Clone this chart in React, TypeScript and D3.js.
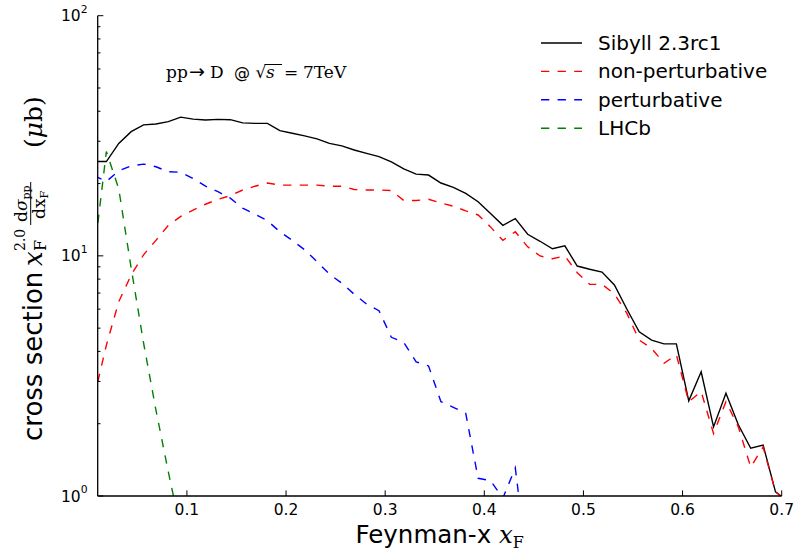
import React from "react";
import * as d3 from "d3";

const xF = [0.00625, 0.01875, 0.03125, 0.04375, 0.05625, 0.06875, 0.08125, 0.09375, 0.10625, 0.11875,
  0.13125, 0.14375, 0.15625, 0.16875, 0.18125, 0.19375, 0.20625, 0.21875, 0.23125, 0.24375,
  0.25625, 0.26875, 0.28125, 0.29375, 0.30625, 0.31875, 0.33125, 0.34375, 0.35625, 0.36875,
  0.38125, 0.39375, 0.40625, 0.41875, 0.43125, 0.44375, 0.45625, 0.46875, 0.48125, 0.49375,
  0.50625, 0.51875, 0.53125, 0.54375, 0.55625, 0.56875, 0.58125, 0.59375, 0.60625, 0.61875,
  0.63125, 0.64375, 0.65625, 0.66875, 0.68125, 0.69375, 0.70625];

const sibyll = [24.7, 24.7, 29.4, 32.9, 35.1, 35.4, 36.2, 37.8, 37.1, 36.8,
  37.0, 36.9, 35.8, 35.6, 35.6, 33.2, 32.4, 31.6, 30.7, 29.4,
  28.7, 27.6, 26.7, 25.9, 24.6, 23.0, 21.9, 21.7, 20.1, 19.3,
  18.2, 16.8, 15.0, 13.4, 14.3, 12.3, 11.5, 10.7, 11.0, 9.07,
  8.79, 8.56, 7.56, 6.01, 4.83, 4.46, 4.30, 4.30, 2.49, 3.29,
  1.94, 2.68, 1.98, 1.58, 1.63, 1.04, 0.95];

const nonPert = [2.56, 4.25, 6.44, 8.32, 10.1, 11.6, 13.4, 14.6, 15.5, 16.4,
  17.2, 17.8, 18.8, 19.5, 20.1, 19.7, 19.7, 19.7, 19.7, 19.5,
  19.5, 18.9, 18.8, 18.8, 18.7, 17.0, 17.0, 17.2, 16.6, 16.1,
  15.4, 14.8, 13.2, 11.6, 12.6, 10.9, 9.99, 9.73, 9.99, 8.51,
  7.61, 7.61, 6.94, 5.77, 4.46, 4.12, 3.57, 3.87, 2.47, 2.72,
  1.82, 2.47, 1.94, 1.32, 1.60, 1.04, 0.95];

const pert = [21.6, 20.4, 22.6, 23.7, 24.1, 23.5, 22.4, 22.3, 21.0, 19.5,
  18.5, 17.4, 15.8, 14.9, 14.0, 12.6, 11.6, 10.6, 9.45, 8.40,
  7.69, 6.92, 6.30, 5.91, 4.58, 4.36, 3.62, 3.48, 2.47, 2.34,
  2.21, 1.185, 1.16, 0.98, 1.31, 0.5];

const lhcb = [10.0, 27.2, 19.0, 8.90, 4.34, 2.28, 1.26, 0.72];

const xTicks = [0.1, 0.2, 0.3, 0.4, 0.5, 0.6, 0.7];
const yMajor = [1, 10, 100];
const yExp = ["0", "1", "2"];
const yMinor = [2, 3, 4, 5, 6, 7, 8, 9, 20, 30, 40, 50, 60, 70, 80, 90];

const seriesNames = ["Sibyll 2.3rc1", "non-perturbative", "perturbative", "LHCb"];
const seriesColors = ["#000000", "#ff0000", "#0000ff", "#008000"];
const seriesData = [sibyll, nonPert, pert, lhcb];
const seriesDash = [null, "8.3,8.3", "8.3,8.3", "8.3,8.3"];

const W = 798, H = 556;
const L = 97.7, R = 781.7, T = 15.7, B = 496;

export default function App() {
  const x = d3.scaleLinear().domain([0.01, 0.7]).range([L, R]);
  const y = d3.scaleLog().domain([1, 100]).range([B, T]);
  const line = d3.line<number>().x((_, i) => x(xF[i])).y((d) => y(d));
  const sans = "DejaVu Sans";
  const serif = "DejaVu Serif";

  return (
    <svg width={W} height={H} style={{ position: "absolute", left: 0, top: 0, background: "#fff" }}>
      <defs>
        <clipPath id="plotclip">
          <rect x={L} y={T} width={R - L} height={B - T} />
        </clipPath>
      </defs>
      <rect x={0} y={0} width={W} height={H} fill="#fff" />
      <g clipPath="url(#plotclip)">
        {seriesData.map((s, k) => (
          <path key={k} d={line(s) || ""} fill="none" stroke={seriesColors[k]} strokeWidth={1.4}
            strokeDasharray={seriesDash[k] || undefined} strokeLinejoin="miter" />
        ))}
      </g>
      {/* axes */}
      <line x1={L} x2={L} y1={T} y2={B} stroke="#000" strokeWidth={1.3} />
      <line x1={L} x2={R} y1={B} y2={B} stroke="#000" strokeWidth={1.3} />
      {xTicks.map((t) => (
        <g key={t}>
          <line x1={x(t)} x2={x(t)} y1={B} y2={B - 5.6} stroke="#000" strokeWidth={1} />
          <text x={x(t)} y={514.5} textAnchor="middle" fontFamily={sans} fontSize={15.5}>{t.toFixed(1)}</text>
        </g>
      ))}
      {yMajor.map((t, i) => (
        <g key={t}>
          <line x1={L} x2={L + 5.6} y1={y(t)} y2={y(t)} stroke="#000" strokeWidth={1} />
          <text x={87.5} y={y(t) + 5.5} textAnchor="end" fontFamily={sans} fontSize={15.5}>
            10<tspan dy={-8.5} fontSize={10.8}>{yExp[i]}</tspan>
          </text>
        </g>
      ))}
      {yMinor.map((t) => (
        <line key={t} x1={L} x2={L + 2.8} y1={y(t)} y2={y(t)} stroke="#000" strokeWidth={1} />
      ))}
      {/* x label */}
      <text x={(L + R) / 2} y={543} textAnchor="middle" fontFamily={sans} fontSize={24.5}>
        Feynman-x <tspan fontFamily={serif} fontStyle="italic">x</tspan>
        <tspan fontFamily={serif} fontSize={16} dy={5}>F</tspan>
      </text>
      {/* y label */}
      <g transform="translate(41.7,441) rotate(-90)">
        <text x={0} y={0} fontFamily={sans} fontSize={26}>cross section</text>
        <text x={175} y={0} fontFamily={serif} fontStyle="italic" fontSize={26}>x</text>
        <text x={190} y={4} fontFamily={serif} fontSize={16}>F</text>
        <text x={190} y={-17} fontFamily={serif} fontSize={14}>2.0</text>
        <text x={219} y={-14.5} fontFamily={serif} fontSize={17}>d<tspan fontStyle="italic">σ</tspan>
          <tspan fontSize={11} dy={3}>pp</tspan></text>
        <line x1={216} x2={259} y1={-11} y2={-11} stroke="#000" strokeWidth={1} />
        <text x={222} y={3.5} fontFamily={serif} fontSize={17}>dx<tspan fontSize={11} dy={3}>F</tspan></text>
        <text x={293} y={0} fontFamily={serif} fontSize={25}>(<tspan fontStyle="italic">μ</tspan>b)</text>
      </g>
      {/* annotation */}
      <text y={78} fontFamily={serif} fontSize={17}>
        <tspan x={166}>pp</tspan>
        <tspan x={189} fontFamily={sans} fontSize={19}>→</tspan>
        <tspan x={210}>D</tspan>
        <tspan x={234} fontFamily={sans} fontSize={16}>@</tspan>
        <tspan x={255.5} fontFamily={sans}>√</tspan>
        <tspan x={266} fontStyle="italic">s</tspan>
        <tspan x={284}>=</tspan>
        <tspan x={303}>7TeV</tspan>
      </text>
      <line x1={264.5} x2={282} y1={64.5} y2={64.5} stroke="#000" strokeWidth={1} />
      {/* legend */}
      {seriesNames.map((n, k) => {
        const cy = 43 + k * 28.4;
        return (
          <g key={n}>
            <line x1={541} x2={582} y1={cy} y2={cy} stroke={seriesColors[k]} strokeWidth={1.4}
              strokeDasharray={seriesDash[k] || undefined} />
            <text x={598} y={cy + 7} fontFamily={sans} fontSize={20}>{n}</text>
          </g>
        );
      })}
    </svg>
  );
}
